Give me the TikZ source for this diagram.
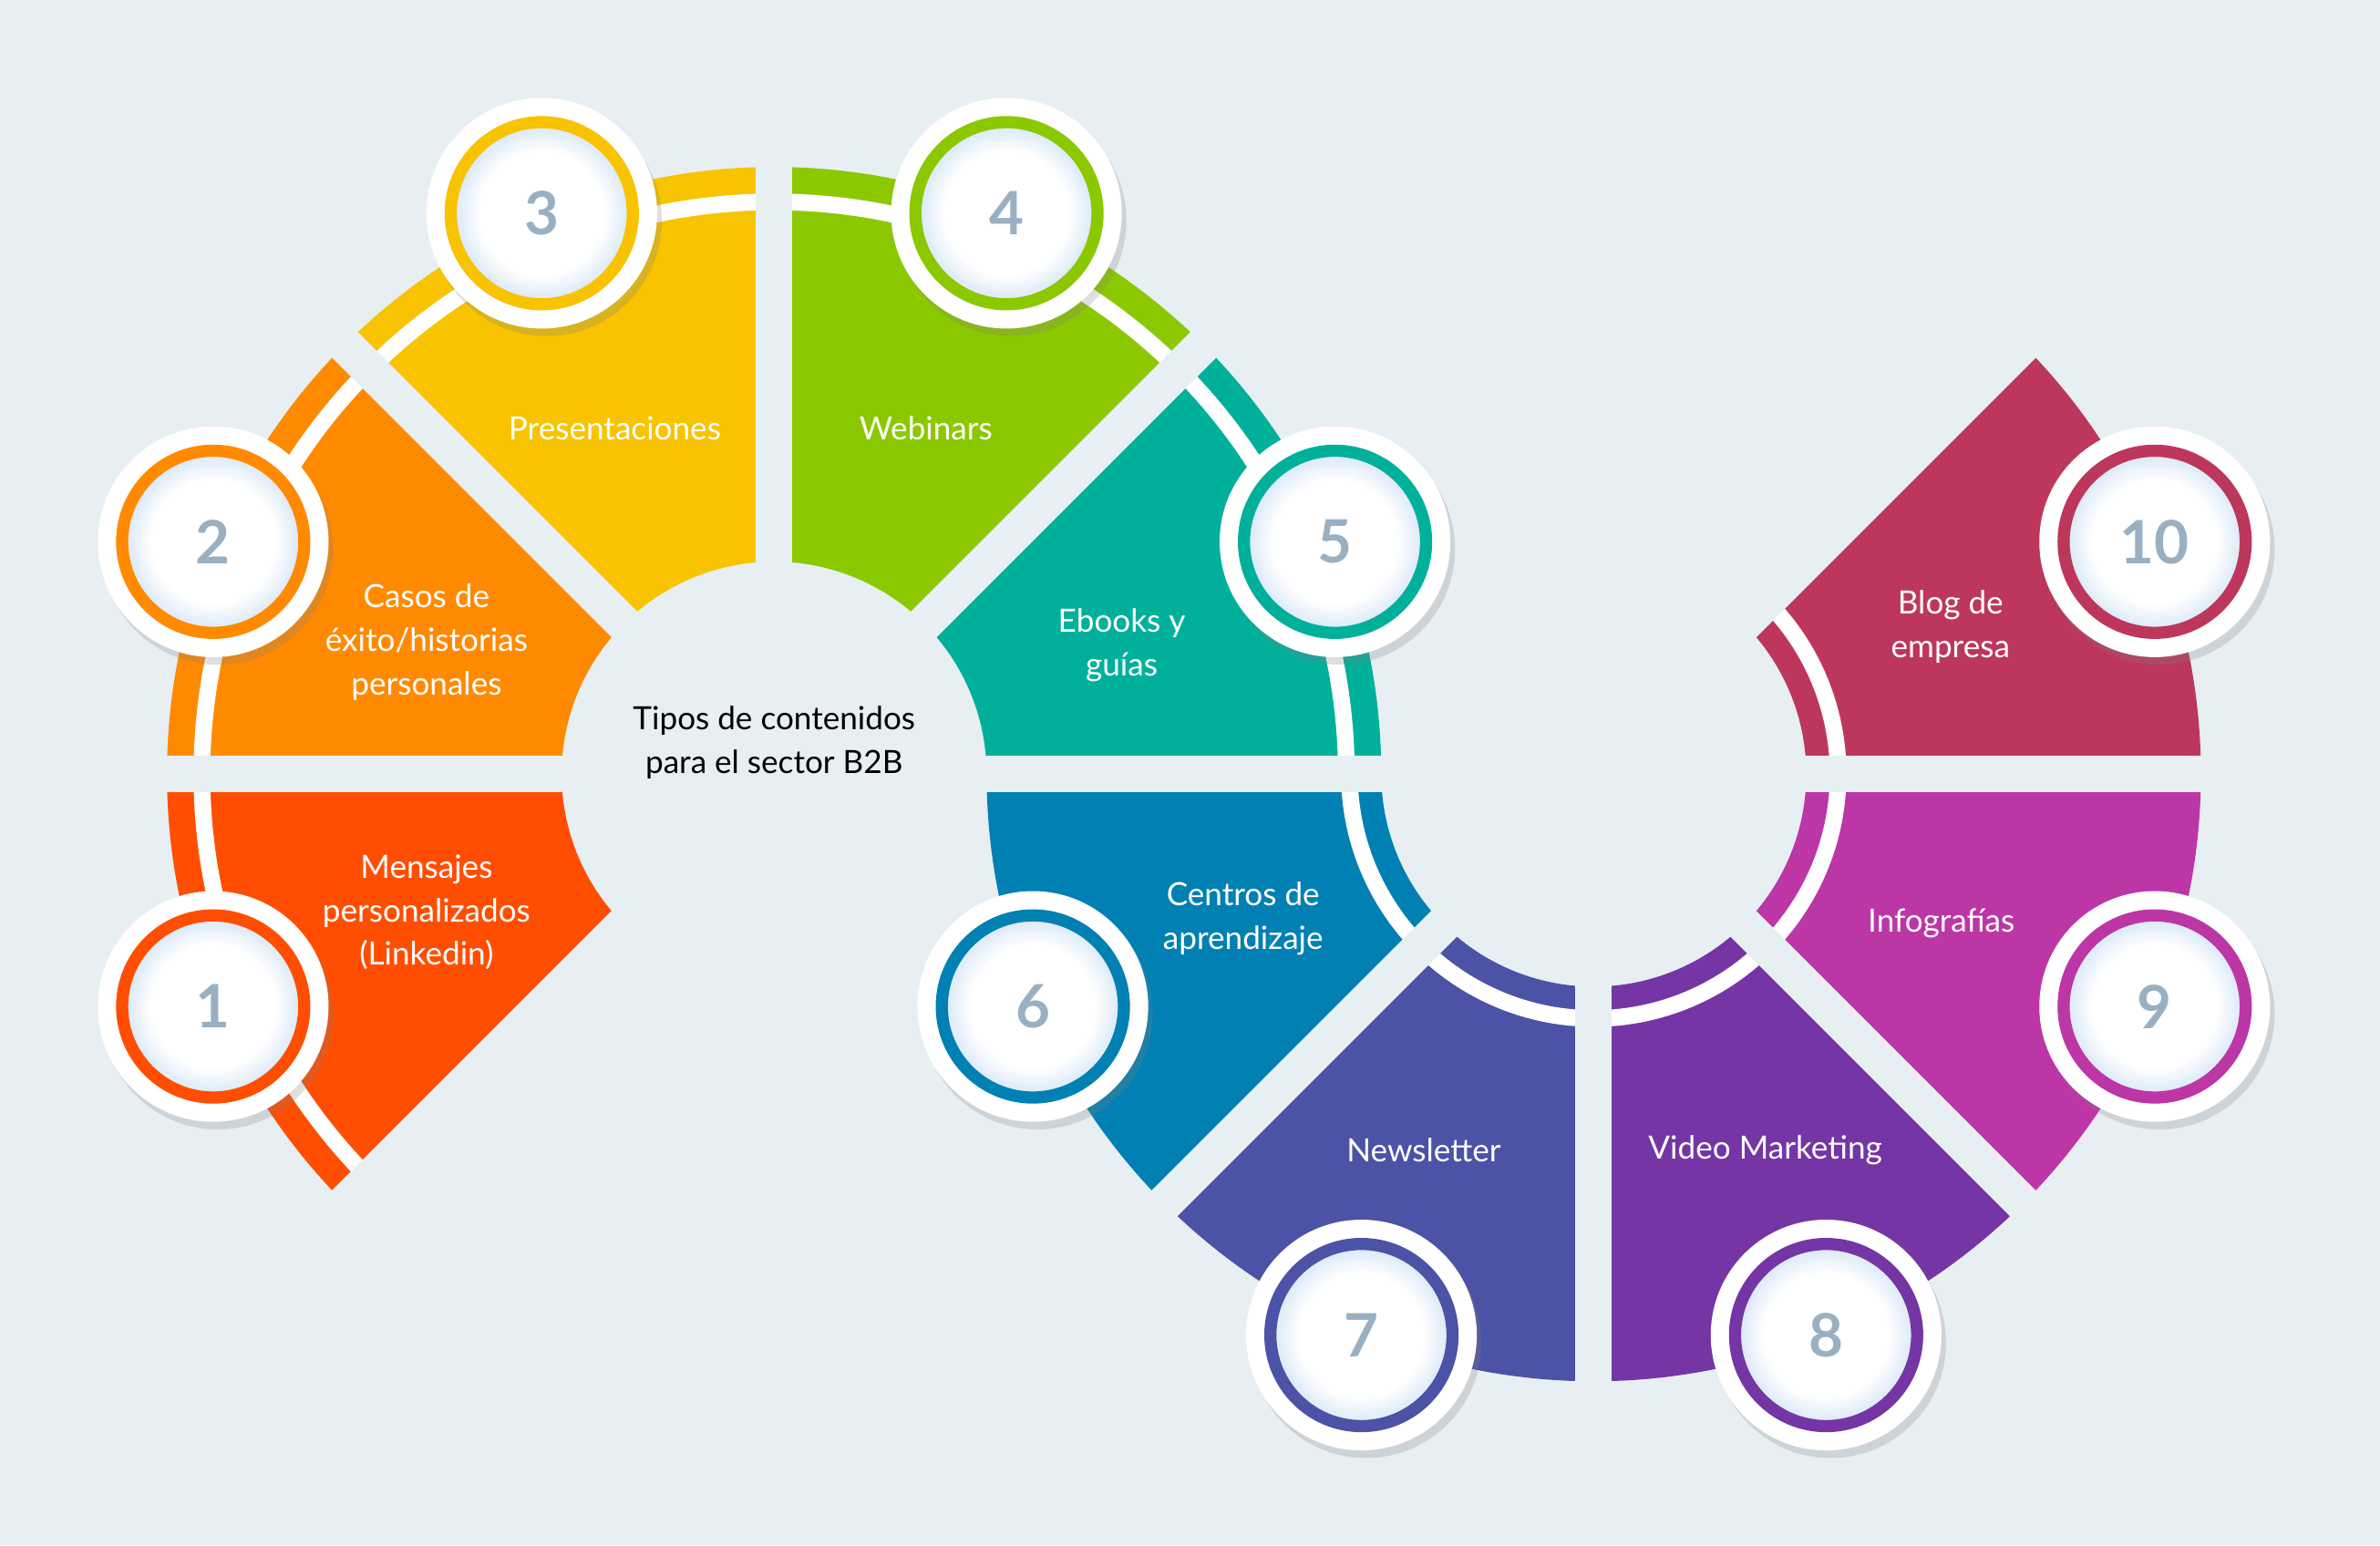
\documentclass[tikz,border=0pt]{standalone}
\usepackage{fontspec}
\setmainfont{Lato}
\usetikzlibrary{shadows}
\definecolor{bg}{HTML}{E7EFF3}
\definecolor{c1}{HTML}{FF4E02}
\definecolor{c2}{HTML}{FF8A00}
\definecolor{c3}{HTML}{F8C300}
\definecolor{c4}{HTML}{8BC800}
\definecolor{c5}{HTML}{00B09B}
\definecolor{c6}{HTML}{0180B3}
\definecolor{c7}{HTML}{4C52A5}
\definecolor{c8}{HTML}{7535A5}
\definecolor{c9}{HTML}{BC36A6}
\definecolor{c10}{HTML}{BD375C}
\definecolor{numgray}{HTML}{9AB0C2}
\definecolor{innerblue}{HTML}{D5E5F5}
\pgfdeclareradialshading{ringsh}{\pgfpoint{0bp}{0bp}}{color(0bp)=(white); color(17bp)=(white); color(25bp)=(innerblue); color(50bp)=(innerblue)}
\tikzset{
  lab/.style={text=white, align=center, font=\fontsize{30}{41}\selectfont},
  numc/.style={circle, draw=#1, line width=4mm, minimum size=60mm, shading=ringsh, text=numgray, font=\fontsize{56}{56}\selectfont\bfseries, inner sep=0pt},
  outerdisk/.style={fill=white, drop shadow={opacity=0.25, shadow xshift=1.5mm, shadow yshift=-2.5mm}},
  gapline/.style={bg, line width=12mm},
  band/.style={white, line width=5.5mm}
}
\begin{document}
\begin{tikzpicture}[x=0.5mm, y=0.5mm]
\fill[bg] (0,0) rectangle (1568,1018);
\useasboundingbox (0,0) rectangle (1568,1018);
\coordinate (L) at (510,508);
\coordinate (R) at (1050,508);
% sectors
\foreach \cx/\a/\c/\br in {510/180/c1/377, 510/135/c2/377, 510/90/c3/377, 510/45/c4/377, 510/0/c5/377,
  1050/180/c6/161, 1050/225/c7/161, 1050/270/c8/161, 1050/315/c9/161, 1050/0/c10/161}{
  \fill[\c] ([shift={(\a:140)}]\cx,508) -- ([shift={(\a:400)}]\cx,508) arc[start angle=\a, delta angle=45, radius=400]
     -- ([shift={(\a+45:140)}]\cx,508) arc[start angle=\a+45, delta angle=-45, radius=140] -- cycle;
  \draw[band] ([shift={(\a:\br)}]\cx,508) arc[start angle=\a, delta angle=45, radius=\br];
}
% gaps
\foreach \a in {0,45,90,135,180,225}{
  \draw[gapline] (L) -- ++(\a:420);
}
\foreach \a in {180,225,270,315,0,45}{
  \draw[gapline] (R) -- ++(\a:420);
}
% number circles
\foreach \cx/\a/\c/\n in {510/202.5/c1/1, 510/157.5/c2/2, 510/112.5/c3/3, 510/67.5/c4/4, 510/22.5/c5/5,
  1050/202.5/c6/6, 1050/247.5/c7/7, 1050/292.5/c8/8, 1050/337.5/c9/9, 1050/22.5/c10/10}{
  \fill[outerdisk] ([shift={(\a:400)}]\cx,508) circle[radius=76];
  \node[numc=\c] (n\n) at ([shift={(\a:400)}]\cx,508) {\n};
}
% labels
\node[lab] (t1) at (281,417) {Mensajes\\personalizados\\(Linkedin)};
\node[lab] (t2) at (281,595) {Casos de\\éxito/historias\\personales};
\node[lab] (t3) at (405,736) {Presentaciones};
\node[lab] (t4) at (610,736) {Webinars};
\node[lab] (t5) at (739,593) {Ebooks y\\guías};
\node[lab, text=black] (tt) at (510,529) {Tipos de contenidos\\para el sector B2B};
\node[lab] (t6) at (819,413) {Centros de\\aprendizaje};
\node[lab] (t7) at (938,260) {Newsletter};
\node[lab] (t8) at (1163,260) {Video Marketing};
\node[lab] (t9) at (1279,410) {Infografías};
\node[lab] (t10) at (1285,605) {Blog de\\empresa};
\end{tikzpicture}
\end{document}
